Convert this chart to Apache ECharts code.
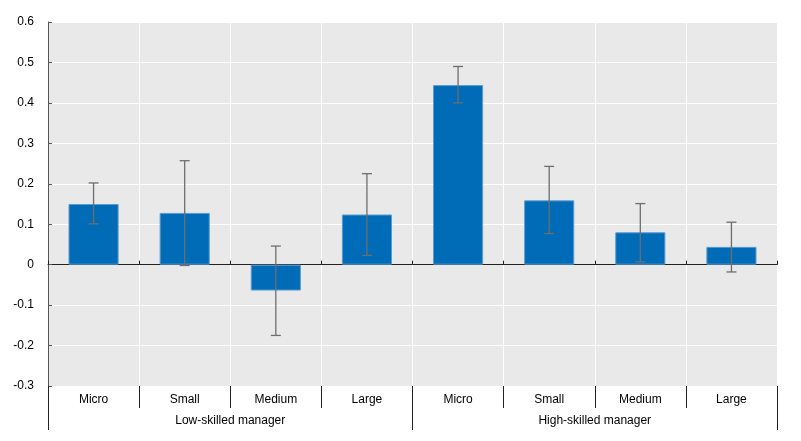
<!DOCTYPE html>
<html>
<head>
<meta charset="utf-8">
<script src="https://cdn.jsdelivr.net/npm/echarts@6/dist/echarts.min.js"></script>
<style>html,body{margin:0;padding:0;background:#fff;}#c{width:801px;height:441px;}</style>
</head>
<body>
<div id="c"></div>
<script>
const categories = ["Micro","Small","Medium","Large","Micro","Small","Medium","Large"];
const groups = ["Low-skilled manager","High-skilled manager"];
const values = [0.150, 0.128, -0.064, 0.124, 0.444, 0.159, 0.080, 0.044];
const errLow = [0.101, -0.002, -0.175, 0.023, 0.400, 0.077, 0.007, -0.018];
const errHigh = [0.202, 0.257, 0.046, 0.225, 0.490, 0.243, 0.151, 0.105];

const errData = values.map((v, i) => [i, errLow[i], errHigh[i]]);
const font = "'Liberation Sans', Arial, sans-serif";

const chart = echarts.init(document.getElementById('c'), null, {renderer: 'canvas'});
chart.setOption({
  animation: false,
  backgroundColor: '#ffffff',
  grid: {left: 48, right: 24, top: 22, bottom: 55, show: true, backgroundColor: '#e9e9e9', borderWidth: 0, containLabel: false},
  xAxis: [
    {
      type: 'category', data: categories, position: 'bottom', boundaryGap: true,
      axisLine: {show: false, onZero: false},
      axisTick: {show: true, length: 22, interval: 0, lineStyle: {color: '#222', width: 1}},
      axisLabel: {show: true, interval: 0, margin: 8, color: '#000', fontSize: 12, fontFamily: font},
      splitLine: {show: true, interval: 0, lineStyle: {color: '#ffffff', width: 1}}
    },
    {
      type: 'category', data: groups, position: 'bottom', offset: 22, boundaryGap: true,
      axisLine: {show: false, onZero: false},
      axisTick: {show: true, length: 22, interval: 0, lineStyle: {color: '#222', width: 1}},
      axisLabel: {show: true, interval: 0, margin: 7, color: '#000', fontSize: 12, fontFamily: font},
      splitLine: {show: false}
    },
    {
      type: 'category', data: categories, position: 'bottom', boundaryGap: true,
      axisLine: {show: true, onZero: true, lineStyle: {color: '#222', width: 1}},
      axisTick: {show: true, inside: true, length: 4, interval: 0, lineStyle: {color: '#222', width: 1}},
      axisLabel: {show: false},
      splitLine: {show: false}
    }
  ],
  yAxis: {
    type: 'value', min: -0.3, max: 0.6, interval: 0.1,
    axisLine: {show: true, lineStyle: {color: '#555', width: 1}},
    axisTick: {show: true, inside: true, length: 4, lineStyle: {color: '#555'}},
    axisLabel: {color: '#000', fontSize: 12, fontFamily: font, margin: 14,
      formatter: v => String(Math.round(v * 10) / 10)},
    splitLine: {show: true, lineStyle: {color: '#ffffff', width: 1}}
  },
  series: [
    {
      type: 'bar', xAxisIndex: 0, data: values, barWidth: '55%',
      itemStyle: {color: '#006bb6', borderColor: '#5b9bd0', borderWidth: 1},
      z: 2
    },
    {
      type: 'custom', xAxisIndex: 0, data: errData, z: 3,
      renderItem: function (params, api) {
        const x = api.value(0);
        const lo = api.coord([x, api.value(1)]);
        const hi = api.coord([x, api.value(2)]);
        const cap = 5;
        const style = {stroke: '#6e6e6e', lineWidth: 1.3};
        return {
          type: 'group',
          children: [
            {type: 'line', shape: {x1: hi[0], y1: hi[1], x2: lo[0], y2: lo[1]}, style: style},
            {type: 'line', shape: {x1: hi[0] - cap, y1: hi[1], x2: hi[0] + cap, y2: hi[1]}, style: style},
            {type: 'line', shape: {x1: lo[0] - cap, y1: lo[1], x2: lo[0] + cap, y2: lo[1]}, style: style}
          ]
        };
      }
    }
  ]
});
</script>
</body>
</html>
